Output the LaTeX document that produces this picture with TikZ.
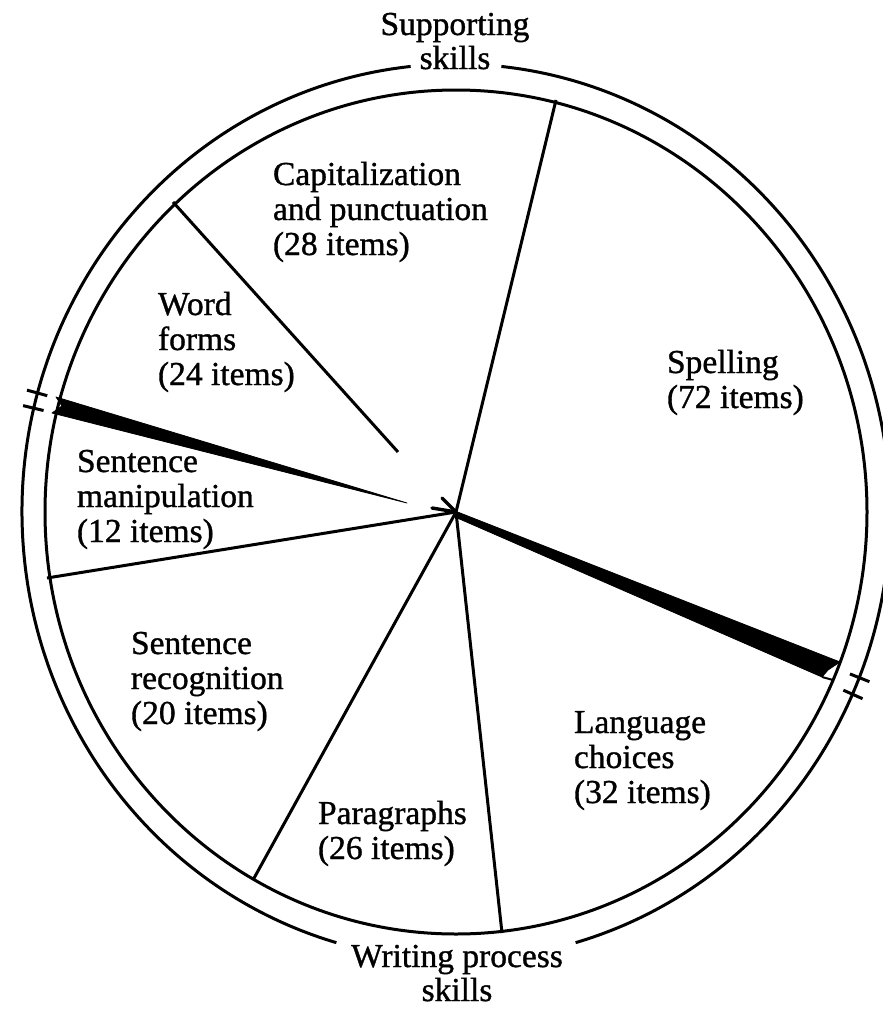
\documentclass[tikz,border=0pt]{standalone}
\usepackage{fontspec}
\setmainfont{Liberation Serif}
\newfontfamily\scanfont[FakeBold=1]{Liberation Serif}
\usetikzlibrary{calc, arrows.meta}

\tikzset{
skill/.style = {%
    font=\scanfont\fontsize{33.5}{35}\selectfont,
    align=left, inner sep=0pt, outer sep=0pt},
group/.style = {%
    font=\scanfont\fontsize{33.5}{34}\selectfont,
    align=center, inner sep=0pt, outer sep=0pt},
spoke/.style = {line width=3pt},
wedge/.style = {fill=black, draw=black, line width=0.8pt, line join=round}
}

\begin{document}
\begin{tikzpicture}[x=1pt, y=1pt, line width=3pt]
    \useasboundingbox (0,0) rectangle (883,-1009);

    % Centre of the wheel
    \coordinate (centre) at (456,-512);

    % Outer ring, broken for the two group titles
    \draw ($(centre)+(96:434 and 448)$) arc[start angle=96, end angle=254, x radius=434, y radius=448];
    \draw ($(centre)+(-74:434 and 448)$) arc[start angle=-74, end angle=84, x radius=434, y radius=448];

    % Marks where the two groups meet
    \foreach \a in {164.6,166.6,-21.7,-24.0}
        \draw ($(centre)+(\a:424 and 438)$) -- ($(centre)+(\a:445 and 459)$);

    % Inner ring
    \draw (centre) ellipse[x radius=411, y radius=422];

    % Ends of the spokes
    \coordinate (capspell) at (556,-100);
    \coordinate (wordcap)  at (173,-202);
    \coordinate (wordend)  at (398,-452);
    \coordinate (manrec)   at (47,-578);
    \coordinate (recpara)  at (253,-880);
    \coordinate (paralang) at (502,-933);

    % Spokes
    \draw[spoke] (centre) -- (capspell);
    \draw[spoke] (wordcap) -- (wordend);
    \draw[spoke] (centre) -- (manrec);
    \draw[spoke] (centre) -- (recpara);
    \draw[spoke] (centre) -- (paralang);

    % Heavy dividers between the two groups
    \fill[wedge] (56,-397) -- (407,-503) -- (52,-413) -- (62,-406) -- cycle;
    \fill[wedge] (455,-511) -- (840,-662) -- (828,-670) -- (822,-677) -- (455,-517) -- cycle;
    \coordinate (notchA) at (822,-677);
    \coordinate (notchB) at (833,-680);
    \draw[line width=2pt] (notchA) -- (notchB);

    % Arrow head at the centre
    \coordinate (barbA) at (432,-508);
    \coordinate (barbB) at (442,-498);
    \draw[line width=3.4pt, line cap=round] (barbA) -- (centre);
    \draw[line width=3.4pt, line cap=round] (barbB) -- (centre);

    % Group titles (base = last line)
    \node[group, anchor=base] (support) at (455,-69) {Supporting\\skills};
    \node[group, anchor=base] (process) at (457,-1001) {Writing process\\skills};

    % Segment labels (base = last line)
    \node[skill, anchor=base west] (capital)  at (273,-255) {Capitalization\\and punctuation\\(28 items)};
    \node[skill, anchor=base west] (word)     at (158,-385) {Word\\forms\\(24 items)};
    \node[skill, anchor=base west] (spell)    at (667,-408) {Spelling\\(72 items)};
    \node[skill, anchor=base west] (manip)    at (77,-542)  {Sentence\\manipulation\\(12 items)};
    \node[skill, anchor=base west] (recog)    at (131,-724) {Sentence\\recognition\\(20 items)};
    \node[skill, anchor=base west] (language) at (574,-803) {Language\\choices\\(32 items)};
    \node[skill, anchor=base west] (para)     at (318,-859) {Paragraphs\\(26 items)};

\end{tikzpicture}
\end{document}
